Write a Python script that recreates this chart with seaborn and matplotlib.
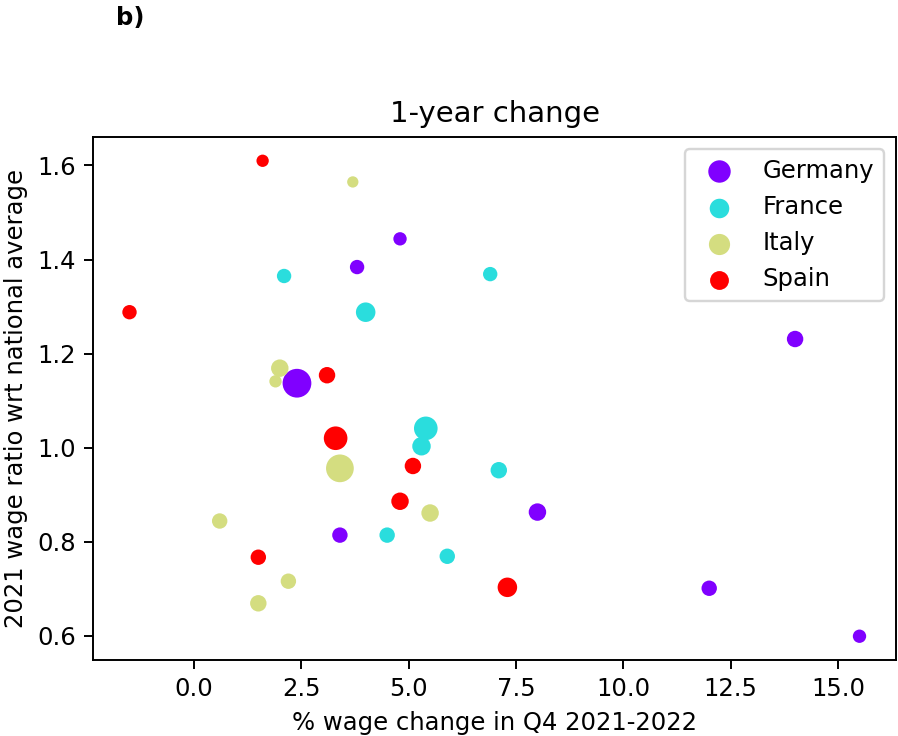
import numpy as np
import pandas as pd
import matplotlib
matplotlib.use("Agg")
import matplotlib.pyplot as plt
import seaborn as sns

countries = ["Germany", "France", "Italy", "Spain"]

# % wage change Q4 2021-2022, 2021 wage ratio vs national average, regional weight
germany_change = [4.8, 3.8, 2.4, 14.0, 8.0, 3.4, 12.0, 15.5]
germany_ratio = [1.444, 1.384, 1.137, 1.231, 0.863, 0.814, 0.701, 0.599]
germany_weight = [16.9, 19.6, 78.4, 25.6, 28.9, 22.5, 22.5, 16.9]

france_change = [2.1, 6.9, 4.0, 5.4, 5.3, 7.1, 4.5, 5.9]
france_ratio = [1.365, 1.369, 1.288, 1.041, 1.003, 0.952, 0.814, 0.769]
france_weight = [19.6, 19.6, 36.1, 52.9, 32.4, 25.6, 22.5, 22.5]

italy_change = [3.7, 2.0, 1.9, 3.4, 5.5, 0.6, 2.2, 1.5]
italy_ratio = [1.565, 1.169, 1.141, 0.956, 0.861, 0.844, 0.716, 0.669]
italy_weight = [12.1, 28.9, 14.4, 72.9, 28.9, 22.5, 22.5, 25.6]

spain_change = [1.6, -1.5, 3.1, 3.3, 5.1, 4.8, 1.5, 7.3]
spain_ratio = [1.610, 1.288, 1.154, 1.020, 0.961, 0.886, 0.767, 0.703]
spain_weight = [14.4, 19.6, 25.6, 52.9, 25.6, 28.9, 22.5, 36.1]

frames = []
for name, xs, ys, ws in [
    ("Germany", germany_change, germany_ratio, germany_weight),
    ("France", france_change, france_ratio, france_weight),
    ("Italy", italy_change, italy_ratio, italy_weight),
    ("Spain", spain_change, spain_ratio, spain_weight),
]:
    frames.append(pd.DataFrame({"country": name, "change": xs, "ratio": ys, "weight": ws}))
df = pd.concat(frames, ignore_index=True)

colors = matplotlib.colormaps["rainbow"](np.linspace(0, 1, len(countries)))
w_max = df["weight"].max()
s_max = 140.0

fig, ax = plt.subplots(figsize=(898 / 175, 736 / 175), dpi=175)
fig.subplots_adjust(left=93 / 898, right=896 / 898, top=1 - 137 / 736, bottom=1 - 660 / 736)

for i, c in enumerate(countries):
    sns.scatterplot(data=df[df["country"] == c], x="change", y="ratio",
                    size="weight", sizes=(0, s_max), size_norm=(0, w_max),
                    color=colors[i], linewidth=0, label=c, legend=False, ax=ax)

ax.legend(loc="upper right")
ax.set_title("1-year change")
ax.set_xlabel("% wage change in Q4 2021-2022")
ax.set_ylabel("2021 wage ratio wrt national average")
fig.text(116 / 898, 1 - 6 / 736, "b)", fontweight="bold", fontsize=10, va="top")

fig.savefig("out.png", dpi=175)
